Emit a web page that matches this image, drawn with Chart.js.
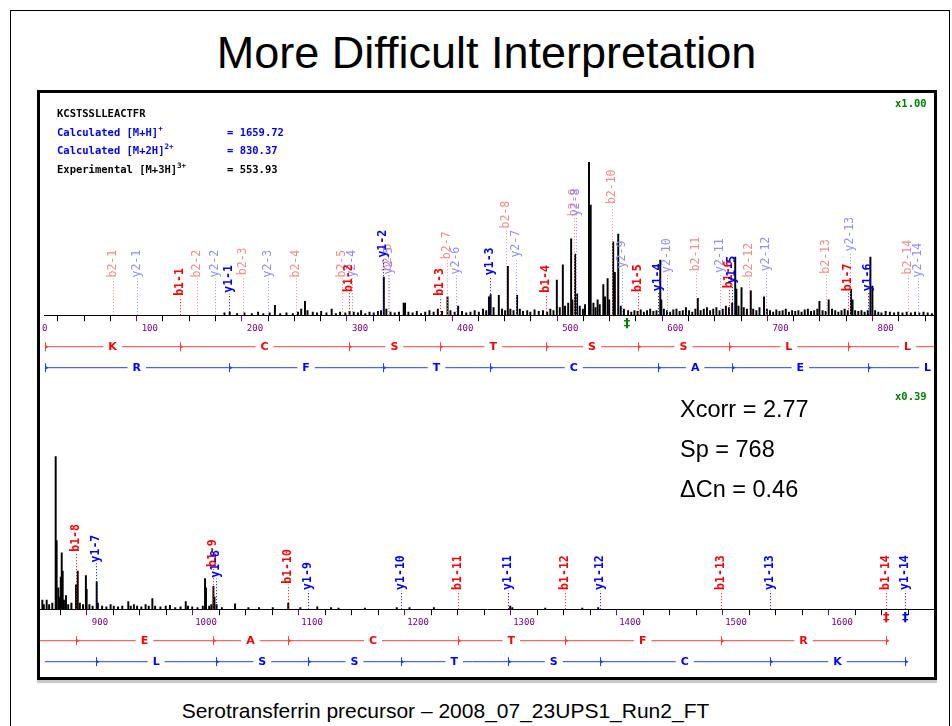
<!DOCTYPE html>
<html>
<head>
<meta charset="utf-8">
<script src="https://cdn.jsdelivr.net/npm/chart.js@4.4.1/dist/chart.umd.min.js"></script>
<style>
  body { margin:0; width:952px; height:726px; position:relative; overflow:hidden; background:#fff; }
  #slide { position:absolute; left:10px; top:10px; width:938px; height:740px; border:1px solid #000; border-bottom:none; }
  #title { position:absolute; left:0; top:27px; width:973px; text-align:center; font-family:"Liberation Sans",Arial,sans-serif; font-size:45px; color:#000; }
  #caption { position:absolute; left:0; top:699px; width:891px; text-align:center; font-family:"Liberation Sans",Arial,sans-serif; font-size:21px; color:#000; }
  #panel { position:absolute; left:37px; top:90px; width:894px; height:584px; border:3px solid #000; box-shadow:0 3px 0 #c8c8c8; background:#fff; }
  #panel canvas { position:absolute; left:0; }
  .hdr { position:absolute; font-family:"DejaVu Sans Mono",monospace; font-weight:bold; font-size:10.5px; white-space:pre; }
  .hdr sup { font-size:7.5px; vertical-align:5px; line-height:0; }
  .scale { position:absolute; left:855px; font-family:"DejaVu Sans Mono",monospace; font-weight:bold; font-size:10.5px; color:#008000; }
  .score { position:absolute; left:640px; font-family:"Liberation Sans",Arial,sans-serif; font-size:23.5px; color:#000; }
</style>
</head>
<body>
<div id="slide"></div>
<div id="title">More Difficult Interpretation</div>
<div id="panel">
  <canvas id="top" width="894" height="290" style="top:0"></canvas>
  <canvas id="bottom" width="894" height="294" style="top:290px"></canvas>
  <div class="hdr" style="left:17px;top:14px;color:#000">KCSTSSLLEACTFR</div>
  <div class="hdr" style="left:17px;top:33px;color:#0000ff">Calculated [M+H]<sup>+</sup></div>
  <div class="hdr" style="left:187px;top:33px;color:#0000ff">= 1659.72</div>
  <div class="hdr" style="left:17px;top:51px;color:#0000ff">Calculated [M+2H]<sup>2+</sup></div>
  <div class="hdr" style="left:187px;top:51px;color:#0000ff">= 830.37</div>
  <div class="hdr" style="left:17px;top:70px;color:#000">Experimental [M+3H]<sup>3+</sup></div>
  <div class="hdr" style="left:187px;top:70px;color:#000">= 553.93</div>
  <div class="scale" style="top:4px">x1.00</div>
  <div class="scale" style="top:297px">x0.39</div>
  <div class="score" style="top:303px">Xcorr = 2.77</div>
  <div class="score" style="top:343px">Sp = 768</div>
  <div class="score" style="top:383px">&Delta;Cn = 0.46</div>
</div>
<div id="caption">Serotransferrin precursor – 2008_07_23UPS1_Run2_FT</div>

<script>
// peaks: [m/z, relative intensity %]
const topPeaks = [
  [171,1.5],[176,2],[183,1],[190,1.5],[197,1],[203,2],[208,1],[214,1.5],[219,6.5],[224,1],[230,1.5],[236,1],
  [241,2],[244,4],[247.6,9],[250,3],[255,2],[259,1.5],[263,2.5],[268,1.5],[273,4],[277,1],[281,2],[286,1.5],
  [290,2.5],[294,2],[298,1.5],[301,3],[305,1],[309,2],[313,1.5],[317,2.5],[320,3],[322.6,25],[325,4],[329,2],
  [333,1.5],[337,2],[341.5,8],[342.8,8],[346,2],[350,1.5],[354,2.5],[358,1],[362,2],[366,3],[370,2],[374,4],
  [378,2.5],[383.2,12],[386,3],[390,2],[393.3,6],[397,2.5],[401,1.5],[405,2],[409,3],[413,2],[417,4],[420,3],
  [422.6,12],[424.2,13.5],[427,5],[432,13],[435,4],[438,3],[440.6,32],[443,4],[446,3],[449.4,13],[452,4],
  [455,2.5],[459,3],[462,2],[466,3.5],[470,2.5],[474,3],[478,2],[481,4],[484,3],[487.2,23],[490,5],[492.9,33],
  [495,6],[498,8],[500.8,50],[502,10],[504.6,40],[506.5,14],[509,6],[512,4],[514,7],[517.8,100],[519.4,72],
  [522,8],[524,5],[526,10],[528,7],[531.4,20],[533,12],[535.5,24],[537,10],[540.8,48],[542.4,28],[545.6,53],
  [548,6],[551,4],[555,3],[558,2],[561,3],[564,2.5],[567,3.5],[570,2],[573,3],[576,4],[579,2.5],[582,3],
  [585.6,36],[586.6,10],[589,4],[592,3],[595,2],[598,3.5],[601,4],[604,2.5],[607,3],[610,5],[613,3],[616,2],
  [619,4],[621.3,11],[624,3],[627,4],[630,5],[633,3],[636,4],[639,5],[642,3],[645,4],[648,6],[651,5],[654,8],
  [656.9,38],[658,17],[660,6],[662.9,18],[665,5],[668,4],[671.7,16],[674,4],[677,3],[680,5],[684.3,12],[687,4],
  [690,3],[693,2],[696,3.5],[699,2.5],[702,3],[705,4],[708,2],[711,3],[714,2.5],[717,3],[720,2],[723,3.5],
  [726,4],[729,2.5],[732,3],[735,4],[737,9],[740,3],[743,2.5],[745.8,10],[749,4],[752,3],[755,2],[758,3],
  [761,4],[764,3],[767,17],[768.5,10],[771,3],[774,2.5],[777,3],[780,2],[783,3],[785.5,38],[787.4,19],[790,3],
  [793,2],[796,1.5],[800,2.5],[804,2],[808,1.5],[812,2],[816,1.5],[820,2],[824,1.5],[828,2],[832,1.5],[836,2],
  [840,1.5],[844,1]
];
const bottomPeaks = [
  [845.6,6],[847,3],[849.7,6],[852,3],[855,4],[858.2,100],[859.1,45],[860.7,14],[862,8],[863,21],[863.9,37],
  [864.8,25],[866,6],[867.9,9],[870,3],[873,4],[877.4,16],[879,25],[881,4],[884,3],[886.7,22],[887.4,13],
  [890,3],[893,2],[896.9,18],[898,4],[902,2],[906,1.5],[910,3],[913,2],[917,1.5],[921,2],[926.7,5],[929,2],
  [932,3],[935,2],[939,1.5],[943,3],[946,2],[949.4,7],[952,2],[957,1.5],[962,2],[966,2.5],[971,1],[976,1.5],
  [980.9,5],[983,2],[987,1.5],[992,1],[997,2],[999.1,20],[1000,14],[1003,2],[1005,3],[1007,15],[1008,8],
  [1010,3],[1015,1],[1027.4,3.5],[1040,1],[1050,1],[1063,1],[1077.6,4],[1089,1],[1105,1.5],[1118,1],
  [1125,0.8],[1150,0.8],[1180,1],[1192,1],[1215,1],[1287,2],[1289,1],[1320,0.8],[1355,0.8],[1370,1]
];

// fragment ion m/z values
const b1Ions = [129.10,289.13,376.16,477.21,564.24,651.27,764.35,877.44,1006.48,1077.52,1237.55,1338.60,1485.67,1641.77];
const y1Ions = [175.12,322.19,423.24,583.27,654.30,783.35,896.43,1009.51,1096.55,1183.58,1284.63,1371.66,1531.69,1659.72];
const b2Ions = [65.05,145.07,188.58,239.11,282.62,326.14,382.68,439.22,503.74,539.26,619.28,669.80,743.34,821.39];
const y2Ions = [88.07,161.60,212.12,292.14,327.65,391.18,448.22,505.26,548.78,592.29,642.82,686.33,766.35,830.37];

// sequence ladders
const bLadder = [0,129.10,289.13,376.16,477.21,564.24,651.27,764.35,877.44,1006.48,1077.52,1237.55,1338.60,1485.67,1641.77];
const bLetters = ['K','C','S','T','S','S','L','L','E','A','C','T','F','R'];
const yLadder = [0,175.12,322.19,423.24,583.27,654.30,783.35,896.43,1009.51,1096.55,1183.58,1284.63,1371.66,1531.69,1659.72];
const yLetters = ['R','F','T','C','A','E','L','L','S','S','T','S','C','K'];

const precursorMz = 553.93;
const topRange = [0, 846];
const bottomRange = [843.4, 1686.8];

const ionSets = [
  { name:'b2', mz:b2Ions, gap:24, color:'#f58a8a', bold:false },
  { name:'y2', mz:y2Ions, gap:24, color:'#8f8fff', bold:false },
  { name:'b1', mz:b1Ions, gap:12, color:'#ff0000', bold:true },
  { name:'y1', mz:y1Ions, gap:12, color:'#0000ff', bold:true }
];

function nearMax(peaks, m) {
  let h = 0;
  peaks.forEach(p => { if (Math.abs(p[0] - m) <= 1.6 && p[1] > h) h = p[1]; });
  return h;
}

function drawLadder(ctx, x, a, yPos, bounds, letters, lineColor, textColor) {
  ctx.setLineDash([]);
  ctx.lineWidth = 1;
  ctx.strokeStyle = lineColor;
  const x0 = Math.max(a.left, x.getPixelForValue(bounds[0]));
  const x1 = Math.min(a.right, x.getPixelForValue(bounds[bounds.length - 1]));
  ctx.beginPath(); ctx.moveTo(x0, yPos + 0.5); ctx.lineTo(x1, yPos + 0.5); ctx.stroke();
  bounds.forEach(b => {
    const px = Math.round(x.getPixelForValue(b)) + 0.5;
    if (px < a.left - 1 || px > a.right + 1) return;
    ctx.beginPath(); ctx.moveTo(px, yPos - 4); ctx.lineTo(px, yPos + 5); ctx.stroke();
    ctx.fillStyle = lineColor;
    ctx.beginPath(); ctx.moveTo(px + 3, yPos + 0.5); ctx.lineTo(px, yPos - 1.5); ctx.lineTo(px, yPos + 2.5); ctx.fill();
  });
  ctx.font = 'bold 11px "DejaVu Sans", sans-serif';
  ctx.textAlign = 'center';
  ctx.textBaseline = 'middle';
  letters.forEach((L, i) => {
    const px = x.getPixelForValue((bounds[i] + bounds[i + 1]) / 2);
    if (px < a.left - 10 || px > a.right + 10) return;
    const w = ctx.measureText(L).width + 10;
    ctx.fillStyle = '#fff';
    ctx.fillRect(px - w / 2, yPos - 4, w, 9);
    ctx.fillStyle = textColor;
    ctx.fillText(L, px, yPos + 1);
  });
}

function ionPlugin(peaks, markers) {
  return {
    id: 'ions',
    afterDatasetsDraw(chart) {
      const ctx = chart.ctx, a = chart.chartArea, x = chart.scales.x, y = chart.scales.y;
      const base = y.getPixelForValue(0);
      ctx.save();
      ctx.beginPath(); ctx.rect(a.left, 0, a.right - a.left, chart.height); ctx.clip();
      ionSets.forEach(set => {
        set.mz.forEach((m, i) => {
          if (m < x.min || m > x.max) return;
          const px = Math.round(x.getPixelForValue(m)) + 0.5;
          const top = y.getPixelForValue(nearMax(peaks, m) + set.gap);
          ctx.setLineDash([1, 2]);
          ctx.lineWidth = 1;
          ctx.strokeStyle = set.color;
          ctx.beginPath(); ctx.moveTo(px, base); ctx.lineTo(px, top); ctx.stroke();
          ctx.save();
          ctx.translate(px, top - 1);
          ctx.rotate(-Math.PI / 2);
          ctx.font = (set.bold ? 'bold ' : '') + '11.5px "DejaVu Sans Mono", monospace';
          ctx.fillStyle = set.color;
          ctx.textAlign = 'left';
          ctx.textBaseline = 'middle';
          ctx.fillText(set.name + '-' + (i + 1), 0, 0);
          ctx.restore();
        });
      });
      drawLadder(ctx, x, a, base + 31, bLadder, bLetters, '#ff4040', '#ff0000');
      drawLadder(ctx, x, a, base + 52, yLadder, yLetters, '#2040ff', '#0000ff');
      ctx.font = 'bold 13px "DejaVu Sans", sans-serif';
      ctx.textAlign = 'center';
      ctx.textBaseline = 'middle';
      markers.forEach(mk => {
        ctx.fillStyle = mk[1];
        ctx.fillText('\u2021', x.getPixelForValue(mk[0]), base + 8);
      });
      ctx.restore();
    }
  };
}

function makeChart(id, peaks, range, yMax, padBottom, markers) {
  return new Chart(document.getElementById(id), {
    type: 'bar',
    data: {
      datasets: [{
        data: peaks.map(p => ({ x: p[0], y: p[1] })),
        backgroundColor: '#000',
        barThickness: 1.3
      }]
    },
    options: {
      responsive: false,
      animation: false,
      events: [],
      layout: { autoPadding: false, padding: { left: 0, right: 0, top: 5, bottom: padBottom } },
      plugins: { legend: { display: false }, tooltip: { enabled: false } },
      scales: {
        x: {
          type: 'linear',
          min: range[0],
          max: range[1],
          offset: false,
          border: { display: true, color: '#000', width: 1 },
          grid: {
            drawOnChartArea: false,
            tickLength: 6,
            color: c => (c.tick && c.tick.value % 100 === 0) ? '#800080' : '#000'
          },
          ticks: {
            stepSize: 25,
            includeBounds: false,
            autoSkip: false,
            maxRotation: 0,
            padding: 2,
            color: '#800080',
            font: { family: 'DejaVu Sans Mono', size: 9 },
            callback: v => (v % 100 === 0 ? v : '')
          }
        },
        y: { display: false, min: 0, max: yMax }
      }
    },
    plugins: [ionPlugin(peaks, markers)]
  });
}

makeChart('top', topPeaks, topRange, 142, 47, [[precursorMz, '#008000']]);
makeChart('bottom', bottomPeaks, bottomRange, 145, 47, [[b1Ions[13], '#ff0000'], [y1Ions[13], '#0000ff']]);
</script>
</body>
</html>
